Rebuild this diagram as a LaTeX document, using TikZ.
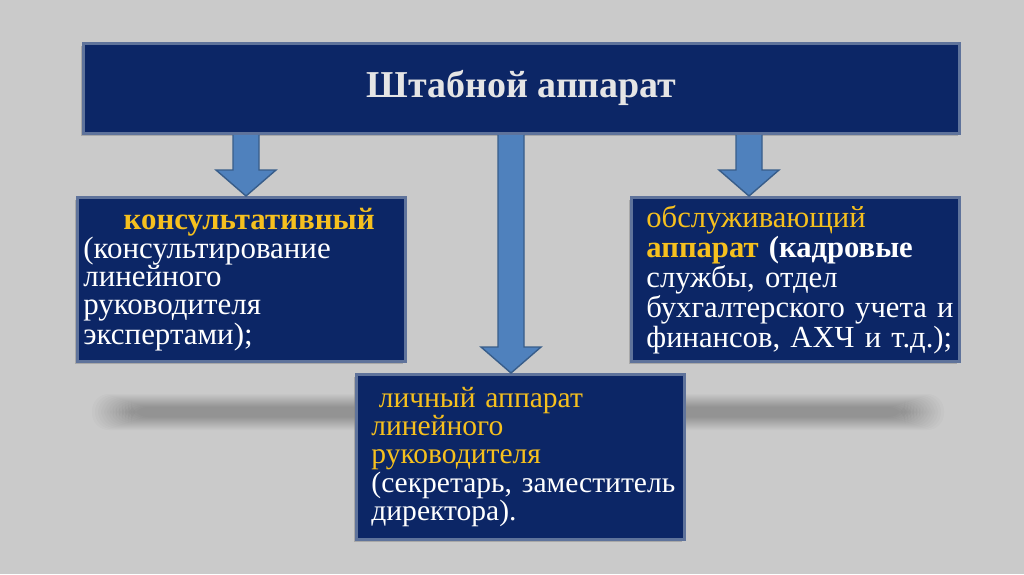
\documentclass[tikz,border=0pt]{standalone}
\usepackage{fontspec}
\setmainfont{Liberation Serif}
\usetikzlibrary{calc,shadows,positioning}
\AtBeginDocument{\setlength{\lineskiplimit}{-20pt}}

\definecolor{navy}{RGB}{12,38,102}
\definecolor{rim}{RGB}{95,115,155}
\definecolor{gold}{RGB}{246,192,30}
\definecolor{arrowfill}{RGB}{79,129,189}
\definecolor{arrowline}{RGB}{56,93,138}
\definecolor{bg}{RGB}{202,202,202}

\newcommand\fatarrow[3]{%
  \path (#1,0 |- #2.south) coordinate (fa top) (#1,0 |- #3.north) coordinate (fa tip);
  \draw[fatarrow] ($(fa top)+(-13,0)$) -- ($(fa tip)+(-13,-26)$) -- ($(fa tip)+(-30,-26)$)
    -- (fa tip) -- ($(fa tip)+(30,-26)$) -- ($(fa tip)+(13,-26)$) -- ($(fa top)+(13,0)$);
}

\begin{document}
\begin{tikzpicture}[x=0.025cm, y=-0.025cm,
  box/.style={fill=navy, draw=rim, line width=2pt, anchor=north west, inner ysep=0pt,
    align=left, text=white, minimum width=8.2cm,
    drop shadow={opacity=0.45, shadow xshift=-1.5pt, shadow yshift=-2pt}},
  fatarrow/.style={fill=arrowfill, draw=arrowline, line width=1pt, line join=miter}]
  \fill[bg] (0,0) rectangle (1024,574);
  \foreach \i in {0,...,13}
    \fill[black, opacity=0.019, rounded corners=12pt] (92+3*\i,394+\i) rectangle (944-3*\i,430-\i);
  \node[box, minimum width=21.9cm, minimum height=2.25cm, align=center,
    text={black!10}, font=\fontsize{27}{30}\selectfont\bfseries] (title) at (82,42) {Штабной аппарат};
  \node[box, font=\fontsize{22}{20}\selectfont, inner xsep=0.15cm, text width=7.9cm,
    minimum height=4.1cm] (consult) at (76,196)
    {\hspace*{1.3em}\textcolor{gold}{\textbf{консультативный}}\\(консультирование\\линейного\\руководителя\\экспертами);};
  \node[box, font=\fontsize{21.8}{21.3}\selectfont, inner xsep=0.375cm, text width=7.45cm,
    minimum height=4.1cm] (service) at (630,196)
    {\textcolor{gold}{обслуживающий}\\\textbf{\textcolor{gold}{аппарат} (кадровые}\\службы, отдел\\\mbox{бухгалтерского учета и}\\\mbox{финансов, АХЧ и т.д.);}};
  \node[box, font=\fontsize{21}{20.2}\selectfont, inner xsep=0.375cm, text width=7.45cm,
    minimum height=4.125cm] (personal) at (355,373)
    {\textcolor{gold}{\hspace*{0.25em}личный аппарат\\линейного\\руководителя}\\\mbox{(секретарь, заместитель}\\директора).};
  \fatarrow{246}{title}{consult}
  \fatarrow{749}{title}{service}
  \fatarrow{511}{title}{personal}
\end{tikzpicture}
\end{document}
